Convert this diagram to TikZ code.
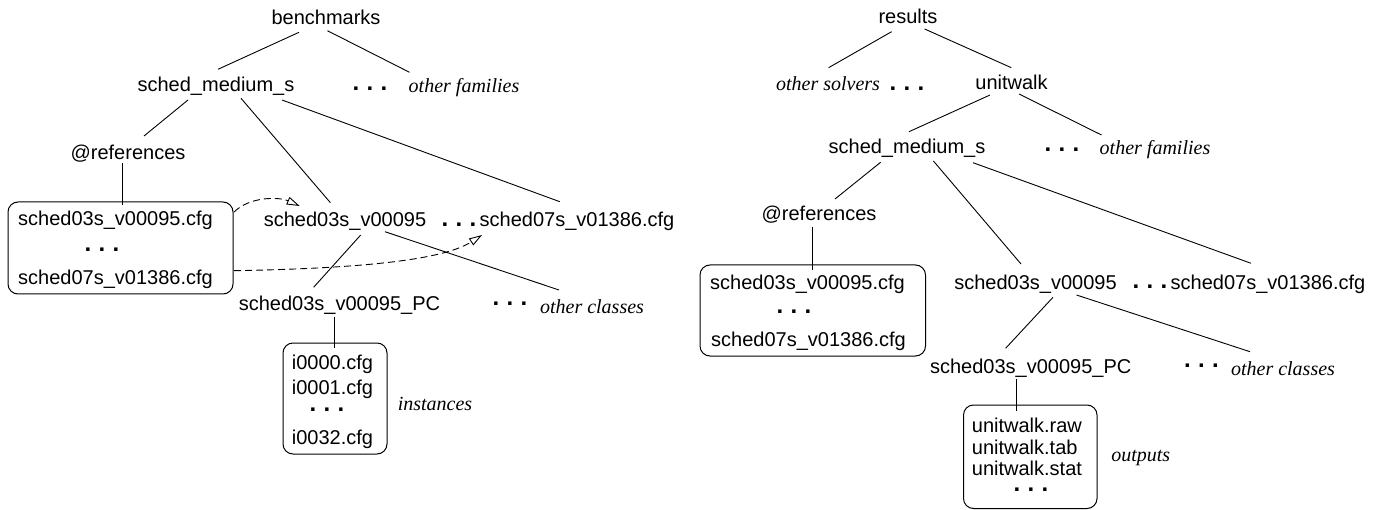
\documentclass[tikz,border=0pt]{standalone}
\usepackage{fontspec}
\setmainfont{Liberation Serif}
\setsansfont{Liberation Sans}
\usetikzlibrary{arrows.meta}
% spaced ellipsis used for omitted entries
\newcommand\elide{.\kern7.3pt.\kern7.3pt.}
\begin{document}
\begin{tikzpicture}[x=1pt,y=-1pt,
  txt/.style={font=\sffamily\fontsize{20}{24}\selectfont, inner sep=0pt, anchor=base},
  lab/.style={font=\rmfamily\itshape\fontsize{20}{24}\selectfont, inner sep=0pt, anchor=base},
  ell/.style={font=\sffamily\bfseries\fontsize{24}{24}\selectfont, inner sep=0pt, anchor=center},
  filebox/.style={draw, rounded corners=10pt, line width=1pt, inner sep=0pt},
  edge/.style={line width=0.9pt},
  refarrow/.style={line width=0.9pt, dash pattern=on 7pt off 4pt,
    -{Triangle[open, length=13pt, width=8pt]}}]
\useasboundingbox (0,0) rectangle (1380,510);

% ---------------- benchmarks tree ----------------
\node[txt] (bm) at (326,25) {benchmarks};
\node[txt] (lsm) at (216,92) {sched\_medium\_s};
\node[ell] (ld1) at (370,88.5) {\elide};
\node[lab] (lfam) at (464,93) {other families};
\node[txt] (lref) at (128,160) {@references};

\node[filebox, minimum width=225pt, minimum height=92pt] (lbox) at (120.5,248) {};
\node[txt, anchor=base west] (lb1) at (18,225.7) {sched03s\_v00095.cfg};
\node[ell] (lb2) at (102,250) {\elide};
\node[txt, anchor=base west] (lb3) at (18,285) {sched07s\_v01386.cfg};

\node[txt] (l95) at (345,227) {sched03s\_v00095};
\node[ell] (ld2) at (459,225) {\elide};
\node[txt] (l1386) at (577,227) {sched07s\_v01386.cfg};
\node[txt] (lpc) at (339.5,311) {sched03s\_v00095\_PC};
\node[ell] (ld3) at (510,303.5) {\elide};
\node[lab] (lcls) at (592,313) {other classes};

\node[filebox, minimum width=104pt, minimum height=111pt] (ibox) at (335,398.5) {};
\node[txt, anchor=base west] (i1) at (291.7,369) {i0000.cfg};
\node[txt, anchor=base west] (i2) at (291.7,394) {i0001.cfg};
\node[ell] (i3) at (327,409.5) {\elide};
\node[txt, anchor=base west] (i4) at (291.7,444) {i0032.cfg};
\node[lab] (inst) at (435,410) {instances};

\draw[edge] ([shift={(-27,7.3)}]bm.base) -- ([shift={(2,-22.7)}]lsm.base);
\draw[edge] ([shift={(1.4,5.7)}]bm.base) -- ([shift={(-54.5,-20.7)}]lfam.base);
\draw[edge] ([shift={(-28,8)}]lsm.base) -- ([shift={(16,-24)}]lref.base);
\draw[edge] ([shift={(25,6.3)}]lsm.base) -- ([shift={(-14.6,-24.3)}]l95.base);
\draw[edge] ([shift={(66,8)}]lsm.base) -- ([shift={(-17.2,-25.3)}]l1386.base);
\draw[edge] ([shift={(-6,3.3)}]lref.base) -- ([shift={(-6,3.3)}]lref.base |- lbox.north);
\draw[edge] ([shift={(15.7,8)}]l95.base) -- ([shift={(-25.9,-23.7)}]lpc.base);
\draw[edge] ([shift={(40,4.7)}]l95.base) -- ([shift={(-33,-23)}]lcls.base);
\draw[edge] ([shift={(-5.2,5.7)}]lpc.base) -- ([shift={(-5.2,5.7)}]lpc.base |- ibox.north);

% reference configurations point at their classes
\draw[refarrow] ([shift={(0.6,-36)}]lbox.east)
  .. controls +(16,-16) and +(-20,-9) .. ([shift={(-45.3,-21)}]l95.base);
\draw[refarrow] ([shift={(0.6,22.7)}]lbox.east)
  .. controls +(110,-2) and +(-42,27) .. ([shift={(-95,8)}]l1386.base);

% ---------------- results tree ----------------
\node[txt] (res) at (908,23.5) {results};
\node[lab] (rsol) at (828,90.7) {other solvers};
\node[ell] (rd0) at (907,88.5) {\elide};
\node[txt] (uw) at (1011.5,90) {unitwalk};
\node[txt] (rsm) at (907,154) {sched\_medium\_s};
\node[ell] (rd1) at (1062,150) {\elide};
\node[lab] (rfam) at (1155,155) {other families};
\node[txt] (rref) at (819,220.7) {@references};

\node[filebox, minimum width=225.5pt, minimum height=91pt] (rbox) at (812.75,310.5) {};
\node[txt, anchor=base west] (rb1) at (710,290) {sched03s\_v00095.cfg};
\node[ell] (rb2) at (794,311.7) {\elide};
\node[txt, anchor=base west] (rb3) at (711,346) {sched07s\_v01386.cfg};

\node[txt] (r95) at (1035.5,290) {sched03s\_v00095};
\node[ell] (rd2) at (1150,287) {\elide};
\node[txt] (r1386) at (1268,290) {sched07s\_v01386.cfg};
\node[txt] (rpc) at (1030.7,373.3) {sched03s\_v00095\_PC};
\node[ell] (rd3) at (1201.5,365.5) {\elide};
\node[lab] (rcls) at (1283,375) {other classes};

\node[filebox, minimum width=133.5pt, minimum height=103.5pt] (obox) at (1030.25,456.75) {};
\node[txt, anchor=base west] (o1) at (971.7,432) {unitwalk.raw};
\node[txt, anchor=base west] (o2) at (971.7,454) {unitwalk.tab};
\node[txt, anchor=base west] (o3) at (971.7,475) {unitwalk.stat};
\node[ell] (o4) at (1031,489.5) {\elide};
\node[lab] (outp) at (1140.7,461.7) {outputs};

\draw[edge] ([shift={(-16.4,8.2)}]res.base) -- ([shift={(0.6,-23)}]rsol.base);
\draw[edge] ([shift={(16.6,5.5)}]res.base) -- ([shift={(-0.2,-22.3)}]uw.base);
\draw[edge] ([shift={(-21.5,5)}]uw.base) -- ([shift={(2,-22.3)}]rsm.base);
\draw[edge] ([shift={(7.5,4)}]uw.base) -- ([shift={(-53.5,-20)}]rfam.base);
\draw[edge] ([shift={(-26.4,8.3)}]rsm.base) -- ([shift={(16,-21.7)}]rref.base);
\draw[edge] ([shift={(26.4,7)}]rsm.base) -- ([shift={(-14.5,-26)}]r95.base);
\draw[edge] ([shift={(66,8.7)}]rsm.base) -- ([shift={(-17,-26.7)}]r1386.base);
\draw[edge] ([shift={(-6.6,6)}]rref.base) -- ([shift={(-6.6,6)}]rref.base |- rbox.north);
\draw[edge] ([shift={(17.5,7.3)}]r95.base) -- ([shift={(-25.1,-25)}]rpc.base);
\draw[edge] ([shift={(41,5)}]r95.base) -- ([shift={(-33,-23.3)}]rcls.base);
\draw[edge] ([shift={(-14.7,6)}]rpc.base) -- ([shift={(-14.7,6)}]rpc.base |- obox.north);
\end{tikzpicture}
\end{document}
